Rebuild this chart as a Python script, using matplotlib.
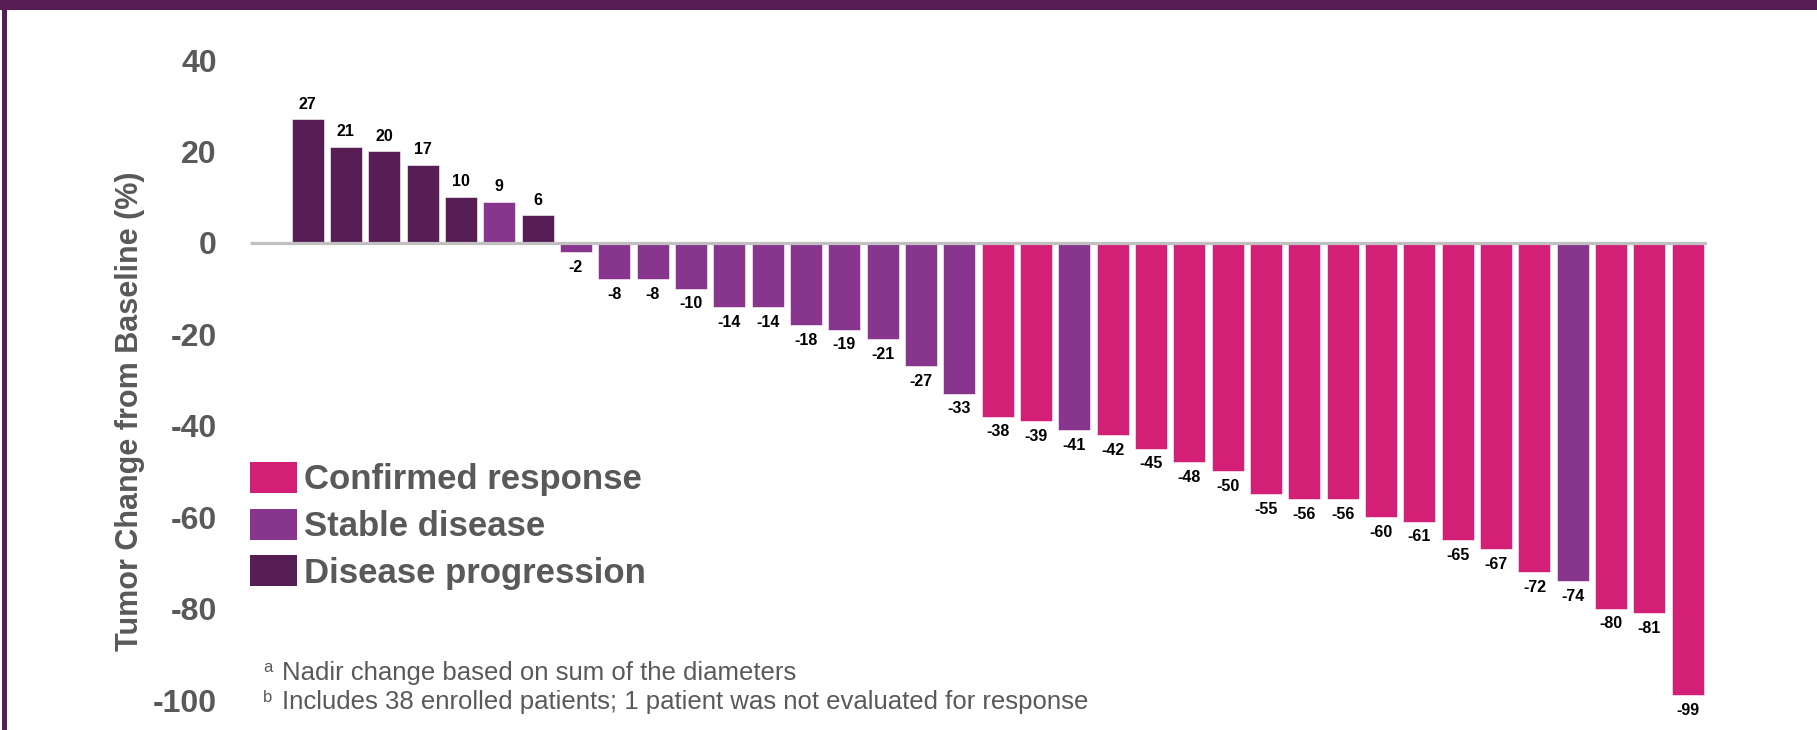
import matplotlib.pyplot as plt
from matplotlib.patches import Patch, Rectangle

# --- DATA ---
values = [27, 21, 20, 17, 10, 9, 6, -2, -8, -8, -10, -14, -14, -18, -19, -21, -27, -33,
          -38, -39, -41, -42, -45, -48, -50, -55, -56, -56, -60, -61, -65, -67, -72, -74,
          -80, -81, -99]
status = ['PD', 'PD', 'PD', 'PD', 'PD', 'SD', 'PD', 'SD', 'SD', 'SD', 'SD', 'SD', 'SD', 'SD',
          'SD', 'SD', 'SD', 'SD', 'CR', 'CR', 'SD', 'CR', 'CR', 'CR', 'CR', 'CR', 'CR', 'CR',
          'CR', 'CR', 'CR', 'CR', 'CR', 'SD', 'CR', 'CR', 'CR']
legend_labels = ['Confirmed response', 'Stable disease', 'Disease progression']
y_ticks = [40, 20, 0, -20, -40, -60, -80, -100]
footnotes = ['Nadir change based on sum of the diameters',
             'Includes 38 enrolled patients; 1 patient was not evaluated for response']

# --- STYLE ---
colors = {'CR': '#D41F77', 'SD': '#88358E', 'PD': '#561E55'}
frame_color = '#561E55'
gray = '#595959'
W, H = 1817, 730

plt.rcParams['font.family'] = ['Liberation Sans', 'DejaVu Sans']

fig = plt.figure(figsize=(W / 100, H / 100), dpi=100)
ax = fig.add_axes([250 / W, 30 / H, 1457 / W, 640 / H])

x = list(range(len(values)))
bar_colors = [colors[s] for s in status]
ax.bar(x, values, width=0.835, color=bar_colors, edgecolor='white', linewidth=0.4, zorder=2)

# baseline
ax.hlines(0, -1.5, len(values) - 0.5, color='#C0C0C0', lw=2.3, zorder=3)

# value labels
for xi, v in zip(x, values):
    off = 11 if v >= 0 else -11
    ax.annotate(f'{v}', xy=(xi, v), xytext=(0, off), textcoords='offset points',
                ha='center', va='center', fontsize=11.5, fontweight='bold', color='black')

ax.set_xlim(-1.5, len(values) - 0.5)
ax.set_ylim(-100, 40)
ax.set_yticks(y_ticks)
ax.set_yticklabels([str(t) for t in y_ticks])
ax.tick_params(axis='y', length=0, pad=24, labelsize=23, labelcolor=gray)
for lbl in ax.get_yticklabels():
    lbl.set_fontweight('bold')
ax.set_xticks([])
for sp in ax.spines.values():
    sp.set_visible(False)
ax.patch.set_alpha(0)

fig.text(130 / W, 1 - 411 / H, 'Tumor Change from Baseline (%)', rotation=90,
         ha='center', va='center', fontsize=22, fontweight='bold', color=gray)

# legend
handles = [Patch(facecolor=colors[k], edgecolor='none') for k in ['CR', 'SD', 'PD']]
fig.legend(handles, legend_labels, loc='upper left', bbox_to_anchor=(250 / W, 1 - 462 / H),
           frameon=False, borderpad=0, borderaxespad=0,
           handlelength=1.36, handleheight=1.0, labelspacing=0.35, handletextpad=0.2,
           prop={'weight': 'bold', 'size': 25}, labelcolor=gray)

# footnotes
for sup, txt, yc in zip(['a', 'b'], footnotes, [673, 702]):
    fig.text(263 / W, 1 - (yc - 5) / H, sup, ha='left', va='center', fontsize=12, color=gray)
    fig.text(282 / W, 1 - yc / H, txt, ha='left', va='center', fontsize=18.5, color=gray)

# frame
fig.patches.append(Rectangle((0, 1 - 10 / H), 1, 10 / H, transform=fig.transFigure,
                             facecolor=frame_color, edgecolor='none'))
fig.patches.append(Rectangle((2 / W, 0), 5 / W, 1, transform=fig.transFigure,
                             facecolor=frame_color, edgecolor='none'))

fig.savefig('out.png', dpi=100, facecolor='white')
